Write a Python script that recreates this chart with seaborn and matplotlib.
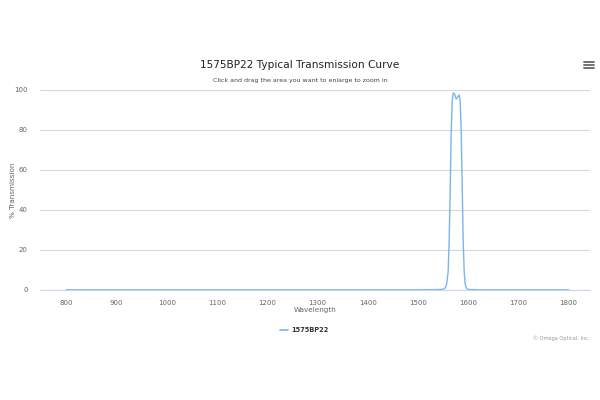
import numpy as np
import pandas as pd
import seaborn as sns
import matplotlib.pyplot as plt

# transmission curve
wavelength = [800, 1000, 1200, 1400, 1500, 1540, 1550, 1554, 1557, 1560, 1562, 1564,
              1566, 1568, 1570, 1573, 1576, 1578, 1580, 1582, 1584, 1586, 1588,
              1590, 1592, 1594, 1596, 1599, 1620, 1700, 1800]
transmission = [0.1, 0.1, 0.1, 0.1, 0.1, 0.2, 0.4, 1.0, 3.0, 9.0, 24.0, 48.0,
                78.0, 94.0, 98.5, 98.0, 95.5, 96.0, 97.0, 97.5, 94.0, 80.0, 52.0,
                24.0, 9.0, 3.0, 1.2, 0.3, 0.1, 0.1, 0.1]
series_name = "1575BP22"
x_ticks = [800, 900, 1000, 1100, 1200, 1300, 1400, 1500, 1600, 1700, 1800]
y_ticks = [0, 20, 40, 60, 80, 100]

df = pd.DataFrame({"Wavelength": wavelength, "% Transmission": transmission,
                   "series": series_name})

sns.set_style("white")
plt.rcParams['font.family'] = ['DejaVu Sans']

fig = plt.figure(figsize=(6, 4), dpi=100)
ax = fig.add_axes([0.067, 0.275, 0.916, 0.5])

sns.lineplot(data=df, x="Wavelength", y="% Transmission", color="#7cb5ec",
             linewidth=1.0, ax=ax, legend=False)

ax.set_xlim(748, 1842)
ax.set_ylim(0, 100)
ax.set_xticks(x_ticks)
ax.set_yticks(y_ticks)
ax.tick_params(axis='x', labelsize=5, colors="#666666", length=4, width=0.6, pad=3)
ax.tick_params(axis='x', color="#ccd6eb")
ax.tick_params(axis='y', labelsize=5, colors="#666666", length=0, pad=9)
ax.yaxis.grid(True, color="#d8d8d8", linewidth=0.8)
ax.set_axisbelow(True)
for s in ["top", "right", "left"]:
    ax.spines[s].set_visible(False)
ax.spines["bottom"].set_color("#ccd6eb")
ax.spines["bottom"].set_linewidth(0.8)

ax.set_xlabel("Wavelength", fontsize=5.2, color="#666666", labelpad=1)
ax.set_ylabel("")
fig.text(0.022, 0.525, "% Transmission", rotation=90, ha="center", va="center",
         fontsize=5.2, color="#666666")

fig.text(0.5, 0.83, "1575BP22 Typical Transmission Curve", ha="center",
         fontsize=7.6, color="#222222", fontweight="medium")
fig.text(0.5, 0.795, "Click and drag the area you want to enlarge to zoom in",
         ha="center", fontsize=4.5, color="#444444")

# legend
fig.add_artist(plt.Line2D([0.467, 0.48], [0.175, 0.175], color="#7cb5ec",
                          linewidth=1.2))
fig.text(0.485, 0.175, series_name, ha="left", va="center", fontsize=4.8,
         fontweight="bold", color="#333333")

fig.text(0.983, 0.155, "© Omega Optical, Inc.", ha="right", va="center",
         fontsize=3.6, color="#999999")

# menu icon
for yy in [0.845, 0.837, 0.829]:
    fig.add_artist(plt.Line2D([0.973, 0.99], [yy, yy], color="#666666",
                              linewidth=1.3))

fig.savefig("out.png", dpi=100, facecolor="white")
